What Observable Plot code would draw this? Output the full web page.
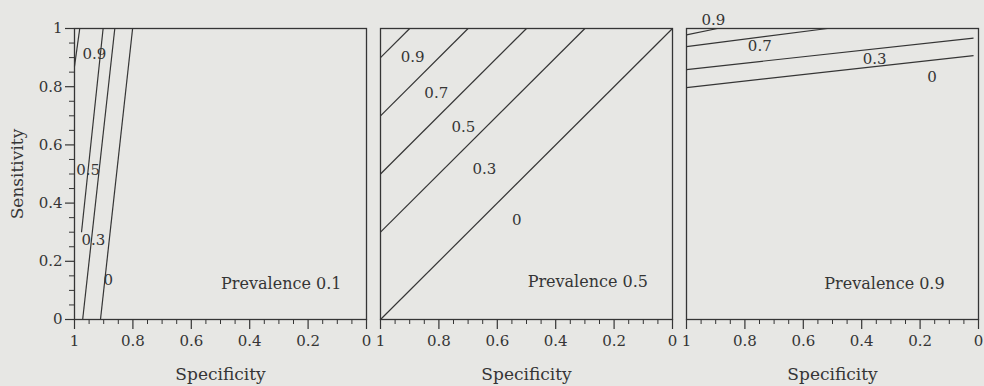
<!DOCTYPE html>
<html>
<head>
<meta charset="utf-8">
<script src="https://cdn.jsdelivr.net/npm/d3@7"></script>
<script src="https://cdn.jsdelivr.net/npm/@observablehq/plot@0.6"></script>
<style>
  html, body { margin: 0; padding: 0; background: #e7e7e4; }
  #chart svg { display: block; }
</style>
</head>
<body>
<div id="chart"></div>
<script>
// Panels (prevalence) and their captions
const prevalences = [0.1, 0.5, 0.9];
const panelCaptions = ["Prevalence 0.1", "Prevalence 0.5", "Prevalence 0.9"];
const captionSpec = [0.292, 0.290, 0.322];
const captionSens = [0.124, 0.131, 0.122];

// Axis ticks
const majorTicks = [0, 0.2, 0.4, 0.6, 0.8, 1];
const minorTicks = [0.05, 0.1, 0.15, 0.25, 0.3, 0.35, 0.45, 0.5, 0.55, 0.65, 0.7, 0.75, 0.85, 0.9, 0.95];

// Contour lines: [prevalence, level, specStart, sensStart, specEnd, sensEnd]
const linesPrev01 = [
  [0.1, "0.9", 1.000, 0.870, 0.982, 1],
  [0.1, "0.5", 0.976, 0.300, 0.902, 1],
  [0.1, "0.3", 0.972, 0.000, 0.862, 1],
  [0.1, "0",   0.911, 0.000, 0.801, 1]
];
const linesPrev05 = [
  [0.5, "0.9", 1, 0.9, 0.9, 1],
  [0.5, "0.7", 1, 0.7, 0.7, 1],
  [0.5, "0.5", 1, 0.5, 0.5, 1],
  [0.5, "0.3", 1, 0.3, 0.3, 1],
  [0.5, "0",   1, 0.0, 0.0, 1]
];
const linesPrev09 = [
  [0.9, "0.9", 1, 0.978, 0.894, 1.000],
  [0.9, "0.7", 1, 0.938, 0.517, 1.000],
  [0.9, "0.3", 1, 0.859, 0.017, 0.967],
  [0.9, "0",   1, 0.797, 0.017, 0.907]
];

// Contour labels: [prevalence, text, spec, sens]
const labelsPrev01 = [
  [0.1, "0.9", 0.932, 0.913],
  [0.1, "0.5", 0.953, 0.512],
  [0.1, "0.3", 0.935, 0.271],
  [0.1, "0",   0.884, 0.134]
];
const labelsPrev05 = [
  [0.5, "0.9", 0.890, 0.901],
  [0.5, "0.7", 0.809, 0.778],
  [0.5, "0.5", 0.716, 0.660],
  [0.5, "0.3", 0.644, 0.518],
  [0.5, "0",   0.533, 0.340]
];
const labelsPrev09 = [
  [0.9, "0.9", 0.908, 1.027],
  [0.9, "0.7", 0.749, 0.938],
  [0.9, "0.3", 0.356, 0.896],
  [0.9, "0",   0.159, 0.833]
];

const lines = [...linesPrev01, ...linesPrev05, ...linesPrev09];
const labels = [...labelsPrev01, ...labelsPrev05, ...labelsPrev09];
const captions = prevalences.map((p, i) => ({p, text: panelCaptions[i], x: captionSpec[i], y: captionSens[i]}));

const ink = "#353535";
const fmt = d => String(d);

const chart = Plot.plot({
  width: 984,
  height: 386,
  marginLeft: 74,
  marginRight: 6,
  marginTop: 28,
  marginBottom: 67,
  style: {background: "transparent", fontFamily: "DejaVu Serif", fontSize: "15px", color: ink},
  fx: {domain: prevalences, paddingInner: 14 / 306, paddingOuter: 0, axis: null},
  x: {domain: [1, 0]},
  y: {domain: [0, 1]},
  marks: [
    Plot.frame({stroke: ink, strokeWidth: 1.3}),
    Plot.axisX(majorTicks, {tickSize: 10, tickPadding: 6, tickFormat: fmt, label: null, stroke: ink, fill: ink, fontSize: 15, strokeWidth: 1.2}),
    Plot.axisX(minorTicks, {tickSize: 5, text: null, label: null, stroke: ink, strokeWidth: 1}),
    Plot.axisY(majorTicks, {tickSize: 9, tickPadding: 3, tickFormat: fmt, label: null, stroke: ink, fill: ink, fontSize: 15, strokeWidth: 1.2}),
    Plot.axisY(minorTicks, {tickSize: 5, text: null, label: null, stroke: ink, strokeWidth: 1}),
    Plot.link(lines, {
      fx: d => d[0], x1: d => d[2], y1: d => d[3], x2: d => d[4], y2: d => d[5],
      stroke: ink, strokeWidth: 1.2
    }),
    Plot.text(labels, {
      fx: d => d[0], x: d => d[2], y: d => d[3], text: d => d[1],
      fill: ink, fontSize: 15
    }),
    Plot.text(captions, {
      fx: d => d.p, x: "x", y: "y", text: "text", fill: ink, fontSize: 16
    }),
    Plot.text(prevalences, {
      fx: d => d, frameAnchor: "bottom", textAnchor: "middle", dy: 60,
      text: () => "Specificity", fill: ink, fontSize: 17
    }),
    Plot.text([prevalences[0]], {
      fx: d => d, frameAnchor: "left", textAnchor: "middle", dx: -57, rotate: -90,
      text: () => "Sensitivity", fill: ink, fontSize: 17
    })
  ]
});

document.getElementById("chart").appendChild(chart);
</script>
</body>
</html>
